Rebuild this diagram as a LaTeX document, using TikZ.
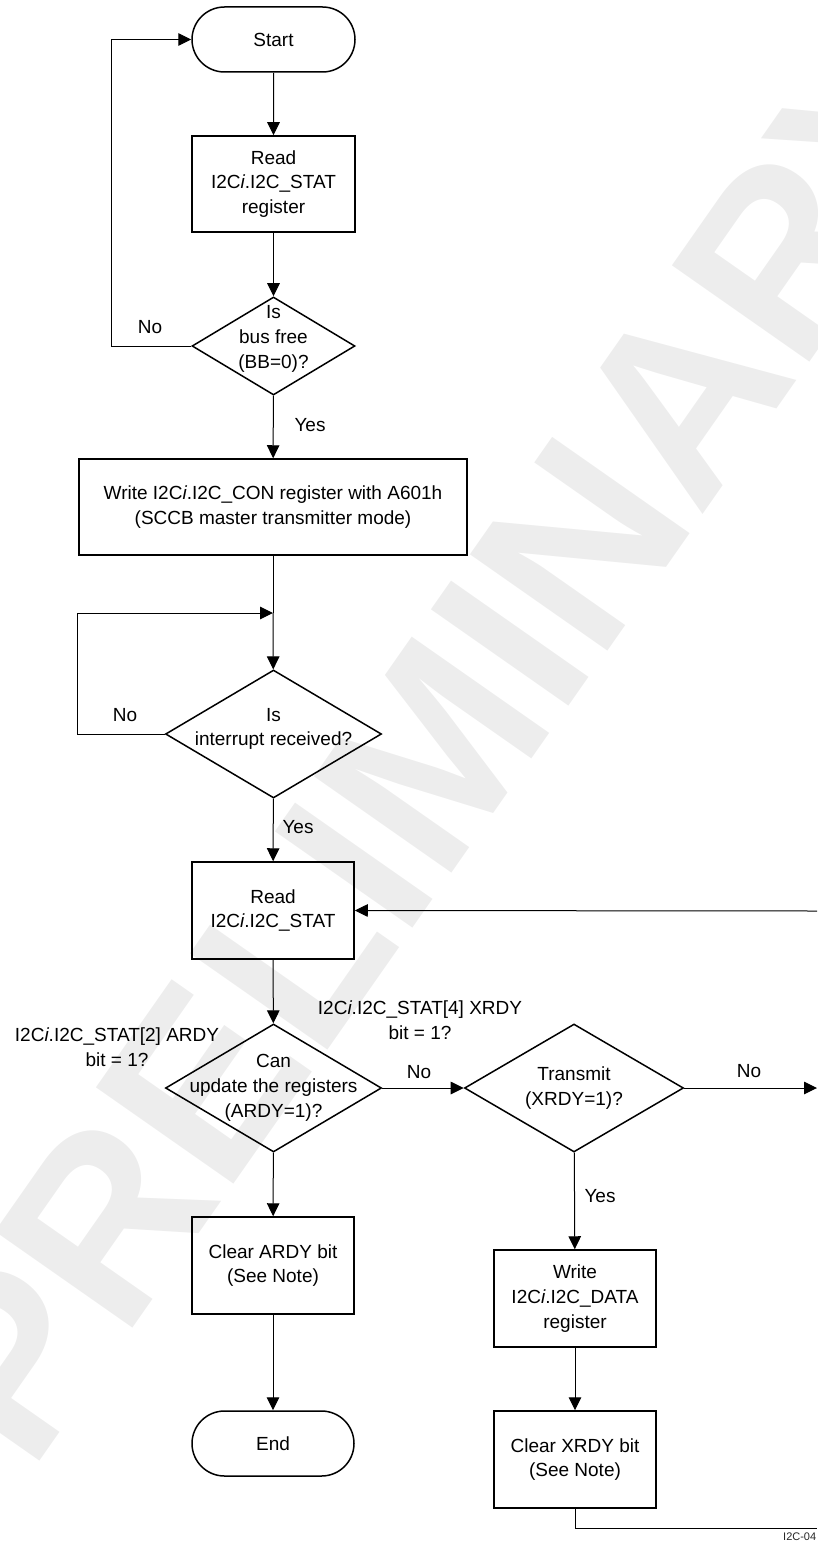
\documentclass[tikz,border=0pt]{standalone}
\usepackage{fontspec}
\setmainfont{Liberation Sans}
\usetikzlibrary{shapes.geometric,shapes.misc,arrows.meta}
\definecolor{wm}{HTML}{EDEDED}
\begin{document}
\begin{tikzpicture}[x=1pt,y=-1pt,
  every node/.style={font=\fontsize{19}{24.8}\selectfont},
  box/.style={draw,line width=1.5pt,rectangle,minimum width=162pt,minimum height=97pt,inner sep=0pt,align=center},
  term/.style={draw,line width=1.5pt,rounded rectangle,minimum width=163pt,minimum height=65pt,inner sep=0pt},
  dec/.style={draw,line width=1.5pt,diamond,inner sep=0pt},
  txt/.style={align=center,inner sep=0pt},
  conn/.style={line width=1pt,-{Triangle[length=13pt,width=12.5pt]}},
  plainline/.style={line width=1pt},
]
\useasboundingbox (0,0) rectangle (817,1541);
% watermark
\begin{scope}
\clip (0,0) rectangle (817,1541);
\node[text=wm, font=\fontsize{244}{244}\selectfont\bfseries, rotate=55, anchor=base, inner sep=0pt] (wmk) at (510,790) {PRELIMINARY};
\end{scope}

% nodes
\node[term] (start) at (273.5,39.5) {Start};
\node[box, minimum width=163pt, minimum height=96pt] (read1) at (273.5,184) {Read\\I2C\textit{i}.I2C\_STAT\\register};
\node[dec, minimum width=163pt, minimum height=98pt] (d1) at (273.5,346) {};
\node[txt] (d1t) at (273.5,339) {Is\\bus free\\(BB=0)?};
\node[box, minimum width=388pt, minimum height=96pt] (write) at (273,507) {Write I2C\textit{i}.I2C\_CON register with A601h\\(SCCB master transmitter mode)};
\coordinate (m1) at (273,613);
\node[dec, minimum width=216pt, minimum height=128pt] (d2) at (273.5,734) {};
\node[txt] (d2t) at (273.5,729) {Is\\interrupt received?};
\node[box] (read2) at (273,910.5) {Read\\I2C\textit{i}.I2C\_STAT};
\node[dec, minimum width=216pt, minimum height=128pt] (d3) at (273.5,1088) {};
\node[txt] (d3t) at (273.5,1088) {Can\\update the registers\\(ARDY=1)?};
\node[txt] (lardy) at (117,1047) {I2C\textit{i}.I2C\_STAT[2] ARDY\\bit = 1?};
\node[txt] (lxrdy) at (420,1020.5) {I2C\textit{i}.I2C\_STAT[4] XRDY\\bit = 1?};
\node[dec, minimum width=219pt, minimum height=128pt] (d4) at (574,1088) {};
\node[txt] (d4t) at (574,1088) {Transmit\\(XRDY=1)?};
\node[box] (wdata) at (575,1298.5) {Write\\I2C\textit{i}.I2C\_DATA\\register};
\node[box] (clrx) at (575,1459.5) {Clear XRDY bit\\(See Note)};
\node[box] (clra) at (273,1265.5) {Clear ARDY bit\\(See Note)};
\node[term, minimum width=162pt] (end) at (273,1443.5) {End};
\coordinate (rin) at (817,911);
\coordinate (rout) at (817,1088);
\coordinate (b1) at (575,1528);
\coordinate (b2) at (817,1528);

% labels
\node[txt] (no1) at (150,327) {No};
\node[txt] (yes1) at (310,425) {Yes};
\node[txt] (no2) at (125,715) {No};
\node[txt] (yes2) at (298,827) {Yes};
\node[txt] (no3) at (419,1072) {No};
\node[txt] (no4) at (749,1071) {No};
\node[txt] (yes4) at (600,1196) {Yes};
\node[anchor=west, inner sep=0pt, font=\fontsize{11}{12}\selectfont, text=black!85] (tag) at (783,1537) {I2C-04};

% connectors
\draw[conn] (start) -- (read1);
\draw[conn] (read1) -- (d1);
\draw[conn] (d1.west) -- ++(-80,0) |- (start.west);
\draw[conn] (d1) -- (write);
\draw[plainline] (write) -- (m1);
\draw[conn] (m1) -- (d2);
\draw[conn] (d2.west) -- ++(-87,0) |- (m1);
\draw[conn] (d2) -- (read2);
\draw[conn] (read2) -- (d3);
\draw[conn] (d3) -- (d4);
\draw[conn] (d3) -- (clra);
\draw[conn] (clra) -- (end);
\draw[conn] (d4.east) -- (rout);
\draw[conn] (d4) -- (wdata);
\draw[conn] (wdata) -- (clrx);
\draw[plainline] (clrx.south) -- (b1) -- (b2);
\draw[conn] (rin) -- (read2.east);
\end{tikzpicture}
\end{document}
